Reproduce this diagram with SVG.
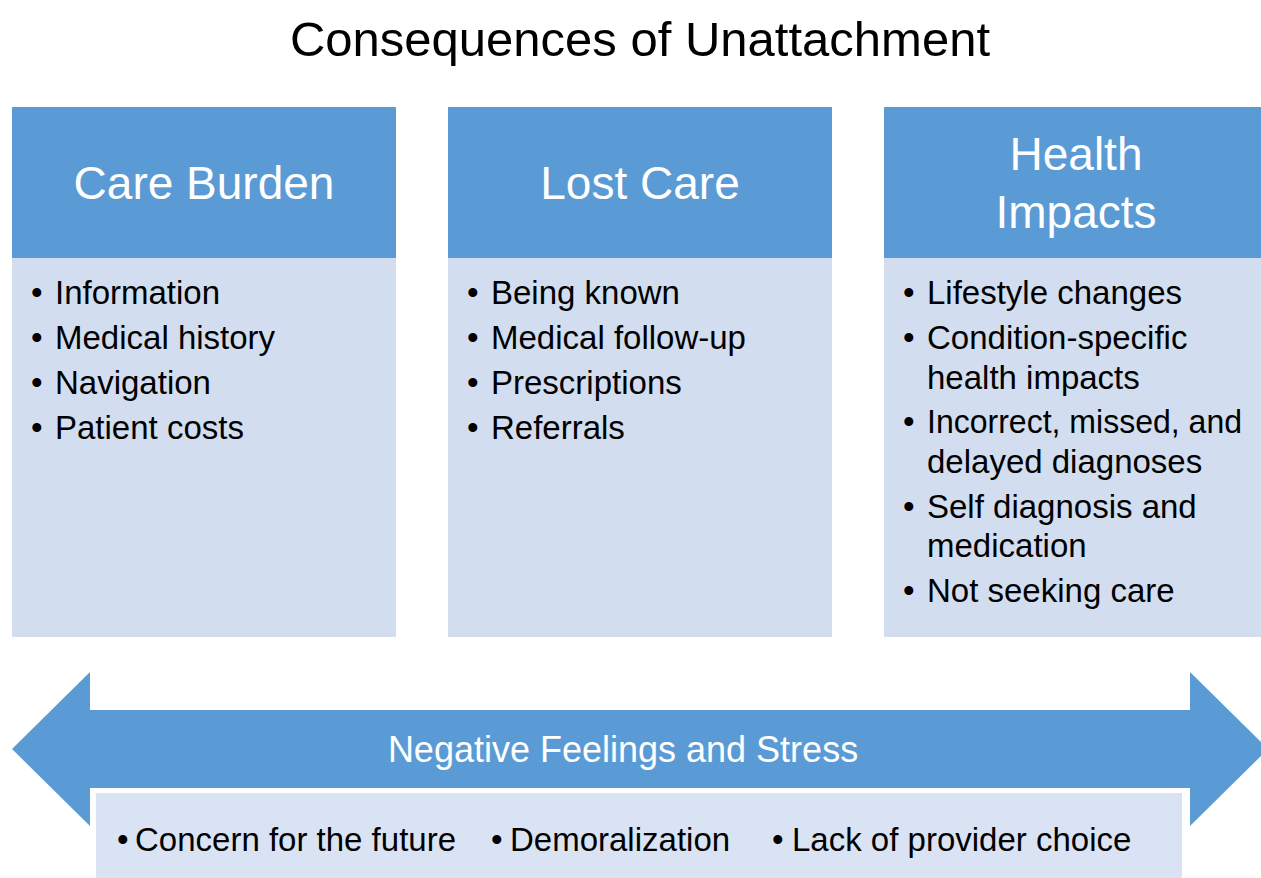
<svg xmlns="http://www.w3.org/2000/svg" width="1261" height="878" viewBox="0 0 1261 878">
<style>
.hdr{fill:#5B9BD5}
.body{fill:#D2DEEF}
.title{font-family:"Liberation Sans",Arial,sans-serif;font-size:49px;fill:#000;text-anchor:middle}
.h{font-family:"Liberation Sans",Arial,sans-serif;font-size:46px;fill:#fff;text-anchor:middle}
.item{font-family:"Liberation Sans",Arial,sans-serif;font-size:33px;fill:#000}
.band{font-family:"Liberation Sans",Arial,sans-serif;font-size:36px;fill:#fff;text-anchor:middle}
</style>
<rect width="1261" height="878" fill="#fff"/>
<text class="title" x="640" y="56">Consequences of Unattachment</text>

<g id="care-burden">
<rect class="hdr" x="12" y="107" width="384" height="151"/>
<rect class="body" x="12" y="258" width="384" height="379"/>
<text class="h" x="204" y="199">Care Burden</text>
<text class="item" x="31" y="304">•</text><text class="item" x="55" y="304">Information</text>
<text class="item" x="31" y="349">•</text><text class="item" x="55" y="349">Medical history</text>
<text class="item" x="31" y="394">•</text><text class="item" x="55" y="394">Navigation</text>
<text class="item" x="31" y="439">•</text><text class="item" x="55" y="439">Patient costs</text>
</g>

<g id="lost-care">
<rect class="hdr" x="448" y="107" width="384" height="151"/>
<rect class="body" x="448" y="258" width="384" height="379"/>
<text class="h" x="640" y="199">Lost Care</text>
<text class="item" x="467" y="304">•</text><text class="item" x="491" y="304">Being known</text>
<text class="item" x="467" y="349">•</text><text class="item" x="491" y="349">Medical follow-up</text>
<text class="item" x="467" y="394">•</text><text class="item" x="491" y="394">Prescriptions</text>
<text class="item" x="467" y="439">•</text><text class="item" x="491" y="439">Referrals</text>
</g>

<g id="health-impacts">
<rect class="hdr" x="884" y="107" width="384" height="151"/>
<rect class="body" x="884" y="258" width="384" height="379"/>
<text class="h" x="1076" y="170">Health</text>
<text class="h" x="1076" y="228">Impacts</text>
<text class="item" x="903" y="304">•</text><text class="item" x="927" y="304">Lifestyle changes</text>
<text class="item" x="903" y="349">•</text><text class="item" x="927" y="349">Condition-specific</text>
<text class="item" x="927" y="389">health impacts</text>
<text class="item" x="903" y="433">•</text><text class="item" x="927" y="433" textLength="315" lengthAdjust="spacingAndGlyphs">Incorrect, missed, and</text>
<text class="item" x="927" y="473">delayed diagnoses</text>
<text class="item" x="903" y="518">•</text><text class="item" x="927" y="518">Self diagnosis and</text>
<text class="item" x="927" y="557">medication</text>
<text class="item" x="903" y="602">•</text><text class="item" x="927" y="602">Not seeking care</text>
</g>

<g id="connectors">
<polygon id="negative-feelings-arrow" class="hdr" points="12,749 90,672 90,710 1190,710 1190,672 1268,749 1190,826 1190,788 90,788 90,826"/>
</g>
<text class="band" x="623" y="762">Negative Feelings and Stress</text>

<g id="feelings-list">
<rect x="92" y="789" width="1094" height="95" fill="#fff"/>
<rect x="96" y="793" width="1086" height="90" fill="#DAE3F3"/>
<text class="item" x="117" y="851">•</text><text class="item" x="135" y="851">Concern for the future</text>
<text class="item" x="491" y="851">•</text><text class="item" x="510" y="851">Demoralization</text>
<text class="item" x="772" y="851">•</text><text class="item" x="792" y="851">Lack of provider choice</text>
</g>
</svg>
